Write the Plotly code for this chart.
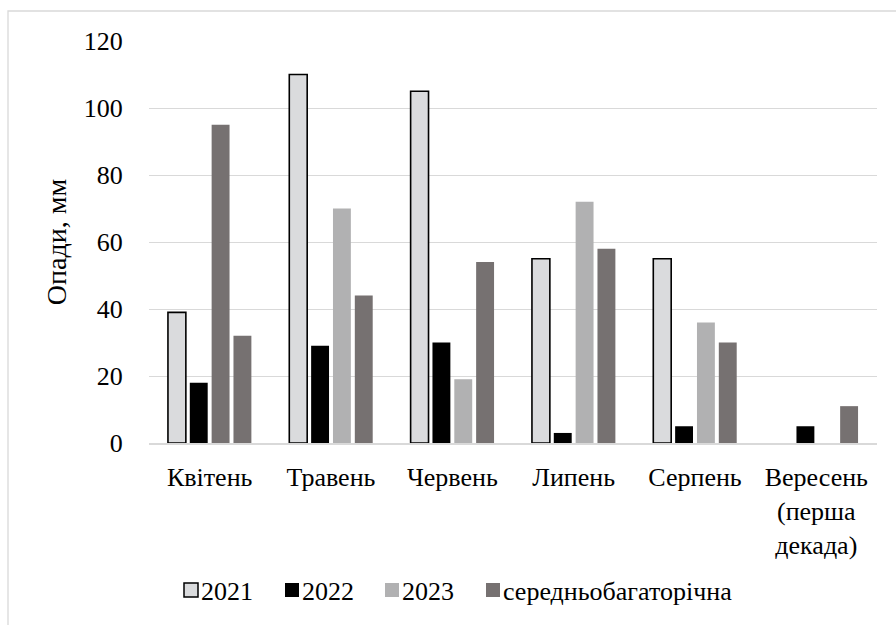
import plotly.graph_objects as go

# Monthly precipitation, mm
months = ["Квітень", "Травень", "Червень", "Липень", "Серпень", "Вересень<br>(перша<br>декада)"]
rain_2021 = [39, 110, 105, 55, 55, None]
rain_2022 = [18, 29, 30, 3, 5, 5]
rain_2023 = [95, 70, 19, 72, 36, None]
rain_norm = [32, 44, 54, 58, 30, 11]

series_names = ["2021", "2022", "2023", "середньобагаторічна"]
y_ticks = [0, 20, 40, 60, 80, 100, 120]

FONT = "Liberation Serif"
C2021 = "#dadbdd"
C2022 = "#000000"
C2023 = "#b1b1b2"
CNORM = "#767171"
series_colors = [C2021, C2022, C2023, CNORM]

# April 2023 bar is drawn in the darker shade
colors_2023 = [CNORM] + [C2023] * (len(months) - 1)

W, H = 896, 625
ML, MR, MT, MB = 149, 19, 41, 182
PW, PH = W - ML - MR, H - MT - MB


def px_x(x):
    return (x - ML) / PW


def px_y(y):
    return (H - MB - y) / PH


fig = go.Figure()
fig.add_trace(go.Bar(name=series_names[0], x=months, y=rain_2021,
                     marker=dict(color=C2021, line=dict(color="#000000", width=1.6))))
fig.add_trace(go.Bar(name=series_names[1], x=months, y=rain_2022,
                     marker=dict(color=C2022, line=dict(width=0))))
fig.add_trace(go.Bar(name=series_names[2], x=months, y=rain_2023,
                     marker=dict(color=colors_2023, line=dict(width=0))))
fig.add_trace(go.Bar(name=series_names[3], x=months, y=rain_norm,
                     marker=dict(color=CNORM, line=dict(width=0))))

# Legend row below the chart: swatch + label for each series
shapes = []
annotations = []
swatch_left = [184, 285, 385, 486]
for name, col, sx in zip(series_names, series_colors, swatch_left):
    line = dict(color="#000000", width=1.5) if name == "2021" else dict(width=0)
    shapes.append(dict(type="rect", xref="paper", yref="paper",
                       x0=px_x(sx), x1=px_x(sx + 14), y0=px_y(597), y1=px_y(583),
                       fillcolor=col, line=line))
    annotations.append(dict(text=name, xref="paper", yref="paper",
                            x=px_x(sx + 15), y=px_y(591), xanchor="left", yanchor="middle",
                            showarrow=False, font=dict(family=FONT, size=26, color="#000000")))

# outer frame
shapes.append(dict(type="rect", xref="paper", yref="paper",
                   x0=px_x(8), x1=px_x(W + 20), y0=px_y(H + 20), y1=px_y(11),
                   line=dict(color="#d9d9d9", width=1.3), fillcolor="rgba(0,0,0,0)",
                   layer="below"))

fig.update_layout(
    width=W, height=H,
    margin=dict(l=ML, r=MR, t=MT, b=MB),
    paper_bgcolor="white", plot_bgcolor="white",
    barmode="group", bargap=0.28, bargroupgap=0.18,
    font=dict(family=FONT, size=26, color="#000000"),
    showlegend=False,
    xaxis=dict(showgrid=False, showline=True, linecolor="#d9d9d9", linewidth=1.5,
               ticks="outside", ticklen=10, tickcolor="rgba(0,0,0,0)",
               tickfont=dict(family=FONT, size=26, color="#000000")),
    yaxis=dict(range=[0, 120], tickvals=y_ticks, showgrid=True, gridcolor="#d9d9d9",
               gridwidth=1.3, zeroline=False, showline=False,
               ticks="outside", ticklen=20, tickcolor="rgba(0,0,0,0)",
               tickfont=dict(family=FONT, size=26, color="#000000"),
               title=dict(text="Опади, мм", font=dict(family=FONT, size=28, color="#000000"),
                          standoff=8)),
    shapes=shapes,
    annotations=annotations,
)

fig.write_html("out.html")
